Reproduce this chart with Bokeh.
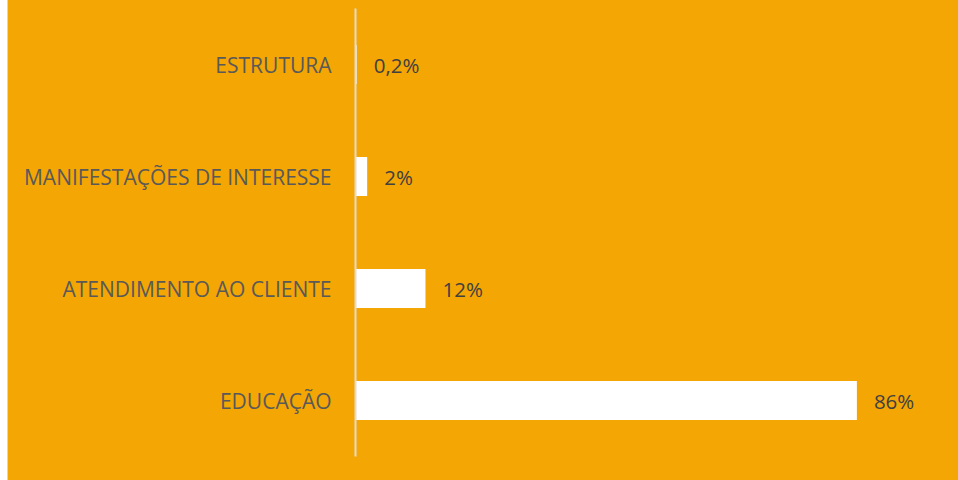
from bokeh.plotting import figure
from bokeh.models import ColumnDataSource, FactorRange, Range1d, LabelSet, Spacer
from bokeh.layouts import row
from bokeh.core.properties import value
from bokeh.embed import file_html
from bokeh.resources import INLINE

categories = ["EDUCAÇÃO", "ATENDIMENTO AO CLIENTE", "MANIFESTAÇÕES DE INTERESSE", "ESTRUTURA"]
values = [86, 12, 2, 0.2]
value_labels = ["86%", "12%", "2%", "0,2%"]

ORANGE = "#F4A604"

src = ColumnDataSource(dict(cat=categories, val=values, lab=value_labels))

p = figure(width=950, height=480, output_backend="svg", toolbar_location=None,
           y_range=FactorRange(*categories), x_range=Range1d(0, 100),
           min_border_left=347, min_border_right=20, min_border_top=8, min_border_bottom=24,
           styles={"background-color": ORANGE})

p.background_fill_color = None
p.border_fill_color = None
p.outline_line_color = None
p.outline_line_width = 0
p.grid.visible = False
p.xaxis.visible = False

p.hbar(y="cat", right="val", left=0, height=0.35, source=src, fill_color="white", line_color=None)

p.yaxis.axis_line_color = "#E3DCCB"
p.yaxis.axis_line_width = 2
p.yaxis.major_tick_line_color = None
p.yaxis.minor_tick_line_color = None
p.yaxis.major_label_standoff = 18
p.yaxis.major_label_text_font = "Open Sans"
p.yaxis.major_label_text_font_size = "21px"
p.yaxis.major_label_text_color = "#595959"

labels = LabelSet(x="val", y="cat", text="lab", source=src, x_offset=17,
                  text_baseline="middle", text_align="left",
                  text_font=value("Open Sans"), text_font_size="20.5px", text_color="#404040")
p.add_layout(labels)

gap = Spacer(width=7, height=480, styles={"background-color": "white"})
edge = Spacer(width=1, height=480, styles={"background-color": "#D6D6D6"})
layout = row(gap, edge, p, spacing=0)

open("out.html", "w").write(file_html(layout, INLINE))
